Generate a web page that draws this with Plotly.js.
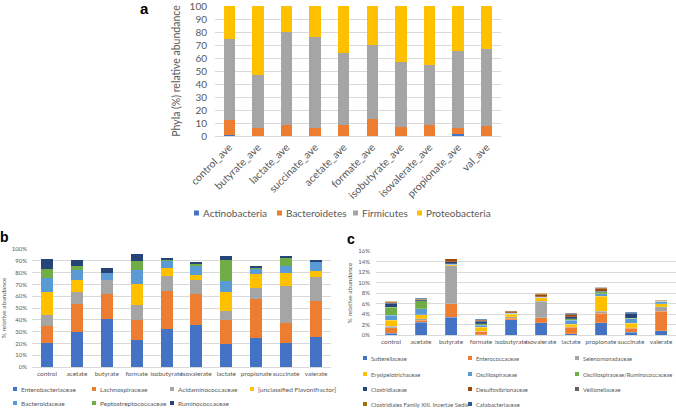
<!DOCTYPE html>
<html><head><meta charset="utf-8">
<script src="https://cdn.plot.ly/plotly-3.0.1.min.js"></script>
<style>html,body{margin:0;padding:0;background:#fff}</style>
</head><body><div id="chart" style="width:676px;height:408px"></div>
<script>
// ---------- Panel a: phyla ----------
const phylaCategories = ['control_ave','butyrate_ave','lactate_ave','succinate_ave','acetate_ave','formate_ave','isobutyrate_ave','isovalerate_ave','propionate_ave','val_ave'];
const phylaNames = ['Actinobacteria','Bacteroidetes','Firmicutes','Proteobacteria'];
const actinobacteria = [0.7, 0, 0, 0, 0, 0, 0, 0, 1.5, 0];
const bacteroidetes  = [11.4, 5.8, 8.6, 5.8, 8.1, 12.9, 6.8, 8.1, 4.8, 7.6];
const firmicutes     = [62.4, 41.4, 71.7, 70.2, 55.8, 57.1, 49.8, 46.2, 58.9, 59.6];
const proteobacteria = [25.5, 52.8, 19.7, 24.0, 36.1, 30.0, 43.4, 45.7, 34.8, 32.8];

// ---------- Panel b: families ----------
const treatments = ['control','acetate','butyrate','formate','isobutyrate','isovalerate','lactate','propionate','succinate','valerate'];
const bNames = ['Enterobacteriaceae','Lachnospiraceae','Acidaminococcaceae','[unclassified Flavonifractor]','Bacteroidaceae','Peptostreptococcaceae','Ruminococcaceae'];
const enterobacteriaceae  = [20, 30, 41, 23, 32, 36, 19.2, 25, 20.6, 25.7];
const lachnospiraceae     = [15, 23, 20.7, 17, 32.3, 26.2, 20.9, 33, 16.4, 30.5];
const acidaminococcaceae  = [9, 10.7, 11.8, 12.7, 13, 11.3, 7.6, 9, 31.9, 20.1];
const flavonifractor      = [19.5, 10, 0.6, 17.8, 6.2, 4.3, 15.9, 11.6, 10.8, 5.3];
const bacteroidaceae      = [11.8, 8.5, 5.7, 11.9, 6.5, 7.6, 9.6, 4.5, 5.6, 7.4];
const peptostreptococcaceae = [8, 3.4, 0.2, 7.6, 0.6, 2, 17.5, 1.2, 7.4, 0.3];
const ruminococcaceae     = [7.9, 5.1, 4.2, 5.4, 2.2, 1.4, 3.1, 1.4, 1.7, 1.7];

// ---------- Panel c: minor families ----------
const cNames = ['Sutterellaceae','Enterococcaceae','Selenomonadaceae','Erysipelotrichaceae','Oscillospiraceae','Oscillospiraceae/Ruminococcaceae','Clostridiaceae','Desulfovibrionaceae','Veillonellaceae','Clostridiales Family XIII. Incertae Sedis','Catabacteriaceae'];
const sutterellaceae      = [0.35, 2.4, 3.35, 0.05, 2.95, 2.3, 0.2, 2.3, 0.5, 0.8];
const enterococcaceae     = [1.0, 0.4, 2.6, 0.65, 0.2, 0.95, 1.25, 1.8, 0.8, 3.75];
const selenomonadaceae    = [0.3, 0.25, 7.2, 0.05, 0.3, 3.2, 0.1, 0.45, 0.05, 0.85];
const erysipelotrichaceae = [1.2, 0.8, 0.25, 0.75, 0.55, 0.6, 0.5, 2.85, 0.85, 0.55];
const oscillospiraceae    = [0.95, 1.15, 0.1, 0.35, 0.1, 0.1, 0.8, 0.5, 0.85, 0.35];
const oscRuminococcaceae  = [1.45, 1.55, 0.05, 0.3, 0.05, 0.05, 0.25, 0.35, 0.15, 0.1];
const clostridiaceae      = [0.8, 0.15, 0.45, 0.5, 0.05, 0.1, 0.4, 0.1, 0.95, 0.05];
const desulfovibrionaceae = [0.2, 0.15, 0.5, 0.2, 0.35, 0.5, 0.35, 0.6, 0.05, 0.15];
const veillonellaceae     = [0.1, 0.1, 0, 0.1, 0.05, 0.1, 0.3, 0.1, 0.05, 0.05];
const clostridialesXIII   = [0.05, 0, 0, 0, 0, 0.05, 0.05, 0.05, 0, 0.05];
const catabacteriaceae    = [0, 0.05, 0, 0.05, 0, 0, 0, 0, 0.05, 0];

// ---------- styles ----------
const aColors = ['#4472C4','#ED7D31','#A5A5A5','#FFC000'];
const bColors = ['#4472C4','#ED7D31','#A5A5A5','#FFC000','#5B9BD5','#70AD47','#264478'];
const cColors = ['#4472C4','#ED7D31','#A5A5A5','#FFC000','#5B9BD5','#70AD47','#264478','#9E480E','#636363','#997300','#255E91'];
const FONT = 'Lato, "Liberation Sans", sans-serif';
const TXT = '#595959';
const GRID = '#D9D9D9';
const W = 676, H = 408;
const px = v => v / W;
const py = v => 1 - v / H;

const aSeries = [actinobacteria, bacteroidetes, firmicutes, proteobacteria];
const bSeries = [enterobacteriaceae, lachnospiraceae, acidaminococcaceae, flavonifractor, bacteroidaceae, peptostreptococcaceae, ruminococcaceae];
const cSeries = [sutterellaceae, enterococcaceae, selenomonadaceae, erysipelotrichaceae, oscillospiraceae, oscRuminococcaceae, clostridiaceae, desulfovibrionaceae, veillonellaceae, clostridialesXIII, catabacteriaceae];

const traces = [];
aSeries.forEach((s, i) => traces.push({type:'bar', x: phylaCategories, y: s, name: phylaNames[i], marker:{color:aColors[i]}, xaxis:'x', yaxis:'y', showlegend:false}));
bSeries.forEach((s, i) => traces.push({type:'bar', x: treatments, y: s, name: bNames[i], marker:{color:bColors[i]}, xaxis:'x2', yaxis:'y2', showlegend:false}));
cSeries.forEach((s, i) => traces.push({type:'bar', x: treatments, y: s, name: cNames[i], marker:{color:cColors[i], line:{color:'rgba(255,255,255,0.6)', width:0.3}}, xaxis:'x3', yaxis:'y3', showlegend:false}));

const annotations = [];
const shapes = [];
function legendEntry(name, color, mx, my, msize, fsize) {
  shapes.push({type:'rect', xref:'paper', yref:'paper', x0:px(mx), x1:px(mx+msize), y0:py(my+msize/2), y1:py(my-msize/2), fillcolor:color, line:{width:0}});
  annotations.push({xref:'paper', yref:'paper', x:px(mx+msize+2), y:py(my), xanchor:'left', yanchor:'middle', text:name, showarrow:false, font:{family:FONT, size:fsize, color:TXT}});
}
// legend a
const aLegX = [194, 277, 353, 417];
phylaNames.forEach((n, i) => legendEntry(n, aColors[i], aLegX[i], 213, 5, 10));
// legend b
const bLegCols = [13, 92, 170, 250], bLegRows = [389, 403];
bNames.forEach((n, i) => legendEntry(n, bColors[i], bLegCols[i % 4], bLegRows[Math.floor(i / 4)], 4, 6.5));
// legend c
const cLegCols = [363, 468, 575], cLegRows = [358, 374, 389, 404];
cNames.forEach((n, i) => legendEntry(n, cColors[i], cLegCols[i % 3], cLegRows[Math.floor(i / 3)], 4, 5.8));

// panel labels
[['a', 144, 8, 15], ['b', 4, 237, 14], ['c', 351, 239, 14]].forEach(([t, x, y, s]) => annotations.push({xref:'paper', yref:'paper', x:px(x), y:py(y), xanchor:'center', yanchor:'middle', text:'<b>'+t+'</b>', showarrow:false, font:{family:'"Liberation Sans", Arial, sans-serif', size:s, color:'#000'}}));

const xCommon = {type:'category', showgrid:false, showline:true, linecolor:GRID, linewidth:1, ticks:'', zeroline:false, fixedrange:true};
const yCommon = {showgrid:true, gridcolor:GRID, gridwidth:1, zeroline:false, showline:false, ticks:'', fixedrange:true, ticklabeloverflow:'allow'};

const layout = {
  width: W, height: H,
  margin: {l:0, r:0, t:0, b:0},
  paper_bgcolor: '#fff', plot_bgcolor: 'rgba(0,0,0,0)',
  barmode: 'stack', bargap: 0.6,
  showlegend: false,
  font: {family: FONT, color: TXT},
  xaxis: Object.assign({}, xCommon, {domain:[px(215), px(501)], anchor:'y', tickangle:-45, tickfont:{size:10.5, color:TXT, family:FONT}}),
  yaxis: Object.assign({}, yCommon, {domain:[py(136), py(6)], anchor:'x', range:[0,100], dtick:10, tickfont:{size:10, color:TXT, family:FONT}, ticklabelstandoff:7,
    title:{text:'Phyla (%) relative abundance', font:{size:10.5, color:TXT, family:FONT}, standoff:6}}),
  xaxis2: Object.assign({}, xCommon, {domain:[px(32), px(331)], anchor:'y2', tickangle:0, tickfont:{size:6.5, color:TXT, family:FONT}}),
  yaxis2: Object.assign({}, yCommon, {domain:[py(367), py(249)], anchor:'x2', range:[0,100], dtick:10, ticksuffix:'%', tickfont:{size:6, color:TXT, family:FONT}, ticklabelstandoff:4,
    title:{text:'% relative abundance', font:{size:6.5, color:TXT, family:FONT}, standoff:4}}),
  xaxis3: Object.assign({}, xCommon, {domain:[px(376), px(676)], anchor:'y3', tickangle:0, tickfont:{size:6.5, color:TXT, family:FONT}}),
  yaxis3: Object.assign({}, yCommon, {domain:[py(335), py(251)], anchor:'x3', range:[0,16], dtick:2, ticksuffix:'%', tickfont:{size:6, color:TXT, family:FONT}, ticklabelstandoff:5,
    title:{text:'% relative abundance', font:{size:6.5, color:TXT, family:FONT}, standoff:4}}),
  annotations: annotations,
  shapes: shapes
};

Plotly.newPlot('chart', traces, layout, {displayModeBar:false, staticPlot:true});
</script></body></html>
